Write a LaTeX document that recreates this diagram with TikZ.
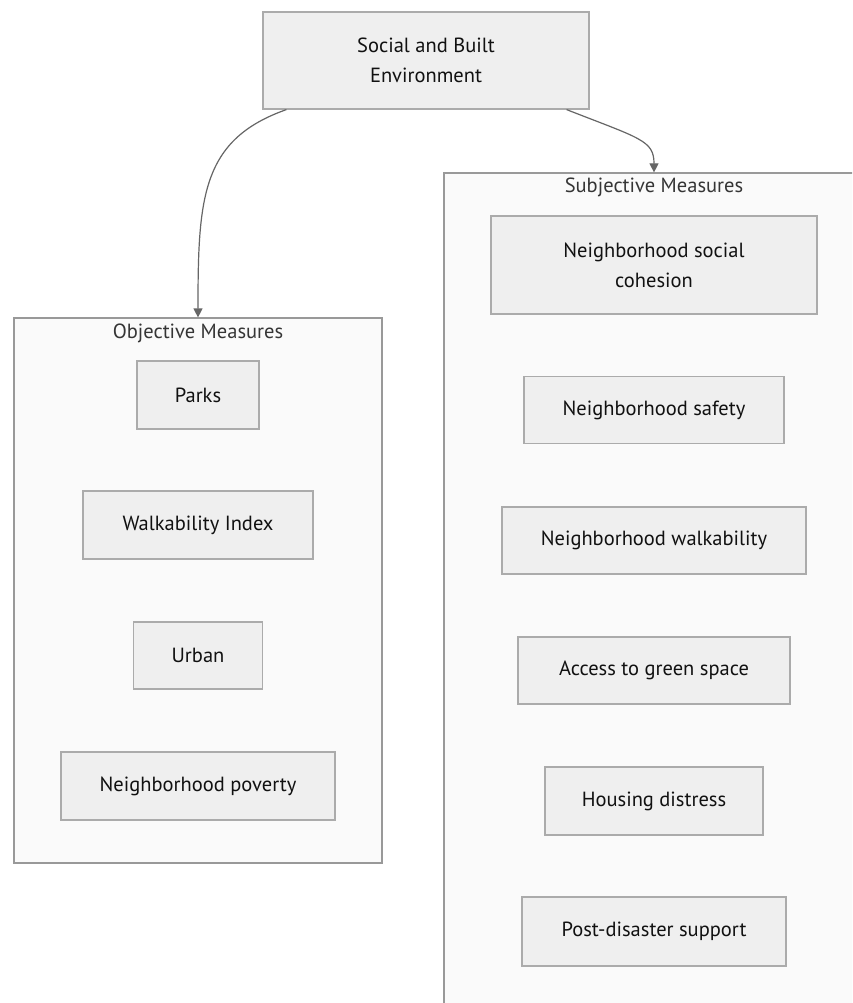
\documentclass[tikz,border=0pt]{standalone}
\usepackage{fontspec}
\setmainfont{PT Sans}
\usetikzlibrary{arrows.meta}

\definecolor{boxfill}{HTML}{EFEFEF}
\definecolor{boxline}{HTML}{ABABAB}
\definecolor{groupfill}{HTML}{FAFAFA}
\definecolor{groupline}{HTML}{999999}
\definecolor{linkgray}{HTML}{666666}
\definecolor{textgray}{HTML}{111111}

\begin{document}
\begin{tikzpicture}[x = 1pt, y = -1pt, > = {Triangle[length = 9pt, width = 9pt]},
	measure/.style = {draw = boxline, fill = boxfill, line width = 1.2pt, inner sep = 0pt, align = center, text = textgray, font = \fontsize{20.5}{30}\selectfont},
	group/.style = {draw = groupline, fill = groupfill, line width = 1.2pt, inner sep = 0pt},
	grouptitle/.style = {text = textgray!85, font = \fontsize{20.5}{24}\selectfont, inner sep = 0pt},
	link/.style = {->, draw = linkgray, line width = 1.2pt}]
	
	\useasboundingbox (0, 0) rectangle (852, 1003);
	\clip (0, 0) rectangle (852, 1003);
	\fill [white] (0, 0) rectangle (852, 1003);
	
	\node [measure, minimum width = 326pt, minimum height = 97pt] (env) at (426, 60.5) {Social and Built\\Environment};
	
	% objective measures
	\node [group, minimum width = 368pt, minimum height = 545pt] (objC) at (198, 590.5) {};
	\node [grouptitle] (objT) at (198, 333) {Objective Measures};
	
	\node [measure, minimum width = 122pt, minimum height = 68pt] (parks) at (198, 395) {Parks};
	\node [measure, minimum width = 230pt, minimum height = 68pt] (walkIdx) at (198, 525) {Walkability Index};
	\node [measure, minimum width = 129pt, minimum height = 67pt] (urban) at (198, 655.5) {Urban};
	\node [measure, minimum width = 274pt, minimum height = 68pt] (poverty) at (198, 786) {Neighborhood poverty};
	
	% subjective measures
	\node [group, minimum width = 420pt, minimum height = 840pt] (subjC) at (654, 593) {};
	\node [grouptitle] (subjT) at (654, 187) {Subjective Measures};
	
	\node [measure, minimum width = 326pt, minimum height = 98pt] (cohesion) at (654, 265) {Neighborhood social\\cohesion};
	\node [measure, minimum width = 260pt, minimum height = 67pt] (safety) at (654, 410) {Neighborhood safety};
	\node [measure, minimum width = 304pt, minimum height = 67pt] (walk) at (654, 540.5) {Neighborhood walkability};
	\node [measure, minimum width = 272pt, minimum height = 67pt] (green) at (654, 670.5) {Access to green space};
	\node [measure, minimum width = 218pt, minimum height = 68pt] (housing) at (654, 801) {Housing distress};
	\node [measure, minimum width = 264pt, minimum height = 69pt] (support) at (654, 931.5) {Post-disaster support};
	
	\draw [link] ([xshift = 24pt] env.south west) .. controls +(-85, 30) and +(0, -120) .. (objC.north);
	\draw [link] ([xshift = -23pt] env.south east) .. controls +(74, 29) and +(0, -32) .. (subjC.north);
	
\end{tikzpicture}
\end{document}
